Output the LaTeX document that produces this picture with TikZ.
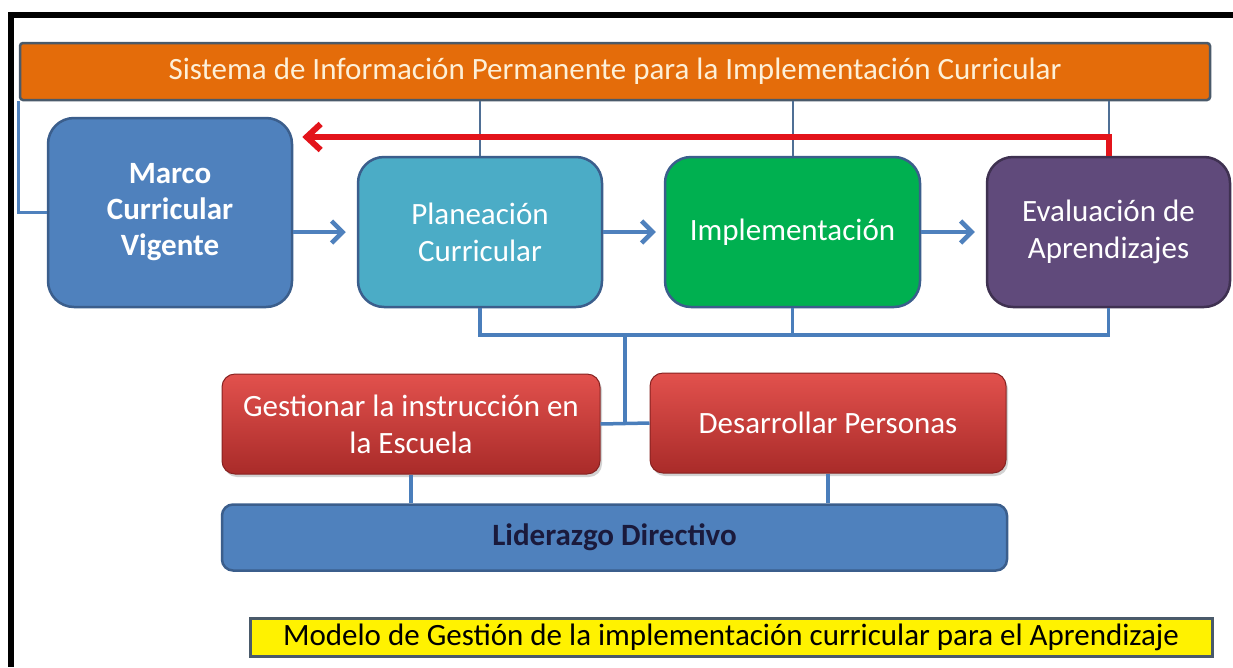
\documentclass[tikz,border=0pt]{standalone}
\usepackage{fontspec}
\setmainfont{Carlito}
\usetikzlibrary{arrows.meta,shadows,calc}
\definecolor{orangeF}{HTML}{E46C0A}
\definecolor{orangeT}{HTML}{FDF0D8}
\definecolor{frameB}{HTML}{3B5E8C}
\definecolor{marcoF}{HTML}{4F81BD}
\definecolor{planF}{HTML}{4BACC6}
\definecolor{implF}{HTML}{00B050}
\definecolor{evalF}{HTML}{604A7B}
\definecolor{evalB}{HTML}{3F3151}
\definecolor{redT}{HTML}{E2514D}
\definecolor{redB}{HTML}{A92B29}
\definecolor{lidT}{HTML}{1A1A3C}
\definecolor{lineB}{HTML}{4A7EBB}
\definecolor{lineG}{HTML}{4F6F95}
\definecolor{arrowR}{HTML}{E3141B}
\definecolor{yelB}{HTML}{4A5A6A}
\tikzset{
  mainbox/.style={draw=frameB, line width=2.5pt, rounded corners=26pt, text=white, align=center,
    font=\fontsize{31}{37}\selectfont, inner sep=0pt},
  redbox/.style={draw=redB!80!black, line width=1pt, rounded corners=13pt, top color=redT, bottom color=redB,
    text=white, align=center, font=\fontsize{31}{37}\selectfont, inner sep=0pt,
    drop shadow={opacity=0.35, shadow xshift=2pt, shadow yshift=-3pt}},
  treeline/.style={draw=lineB, line width=3.5pt},
  thinline/.style={draw=lineG, line width=2pt},
  bluearrow/.style={draw=marcoF, line width=4.5pt, -{Straight Barb[length=11pt,width=22pt]}},
  redarrow/.style={draw=arrowR, line width=6pt, -{Straight Barb[length=14pt,width=26pt]}},
}
\begin{document}
\begin{tikzpicture}[x=1pt,y=-1pt]
\useasboundingbox (0,0) rectangle (1233,667);
\fill[white] (0,0) rectangle (1233,667);
% frame
\draw[line width=6pt] (1233,15) -- (11,15) -- (11,667);
% nodes
\node[draw=yelB, line width=2.5pt, rounded corners=3pt, fill=orangeF, minimum width=1190pt, minimum height=57pt,
  text=orangeT, font=\fontsize{31}{34}\selectfont, inner sep=0pt] (orange) at (615,71.5)
  {Sistema de Información Permanente para la Implementación Curricular};
\node[mainbox, fill=marcoF, minimum width=244pt, minimum height=189pt, font=\bfseries\fontsize{31}{36}\selectfont] (marco) at (170,212.5)
  {Marco\\Curricular\\Vigente};
\node[mainbox, fill=planF, minimum width=244pt, minimum height=150pt] (plan) at (480,232)
  {Planeación\\Curricular};
\node[mainbox, fill=implF, minimum width=255pt, minimum height=150pt] (impl) at (792.5,232)
  {Implementación};
\node[mainbox, draw=evalB, fill=evalF, minimum width=243pt, minimum height=150pt] (eval) at (1108.5,232)
  {Evaluación de\\Aprendizajes};
\node[redbox, minimum width=378pt, minimum height=100pt] (gest) at (411,424)
  {Gestionar la instrucción en\\la Escuela};
\node[redbox, minimum width=356pt, minimum height=100pt] (desa) at (828,423)
  {Desarrollar Personas};
\node[draw=frameB, line width=2.5pt, rounded corners=11pt, fill=marcoF, minimum width=785pt, minimum height=66pt,
  text=lidT, font=\bfseries\fontsize{31}{34}\selectfont, inner sep=0pt] (lid) at (614.5,537.5)
  {Liderazgo Directivo};
\node[draw=yelB, line width=3pt, fill=yellow, minimum width=962pt, minimum height=38pt,
  text=black, font=\fontsize{31}{34}\selectfont, inner sep=0pt] (yel) at (731,637)
  {Modelo de Gestión de la implementación curricular para el Aprendizaje};
% coordinates
\coordinate (bus) at (0,335);
\coordinate (redy) at (0,137);
\coordinate (j) at ($(gest.east)!0.5!(desa.west)$);
% connectors from orange bar
\draw[treeline, line width=3pt, draw=marcoF] (orange.south west) |- (marco.west);
\draw[thinline] (orange.south -| plan.north) -- (plan.north);
\draw[thinline] (orange.south -| impl.north) -- (impl.north);
\draw[thinline] (orange.south -| eval.north) -- (eval.north |- redy);
% red feedback arrow
\draw[redarrow, shorten >=9pt] (eval.north) |- (marco.east |- redy);
% blue flow arrows
\draw[bluearrow, shorten >=11pt] (marco.east |- plan.west) -- (plan.west);
\draw[bluearrow, shorten >=8pt] (plan.east) -- (impl.west);
\draw[bluearrow, shorten >=11pt] (impl.east) -- (eval.west);
% bus
\draw[treeline] (plan.south) |- (eval.south |- bus) -- (eval.south);
\draw[treeline] (impl.south) -- (impl.south |- bus);
\draw[treeline] (j |- bus) -- (j);
\draw[treeline] (gest.east) -- (desa.west);
\draw[treeline] (gest.south) -- (gest.south |- lid.north);
\draw[treeline] (desa.south) -- (desa.south |- lid.north);
\end{tikzpicture}
\end{document}
